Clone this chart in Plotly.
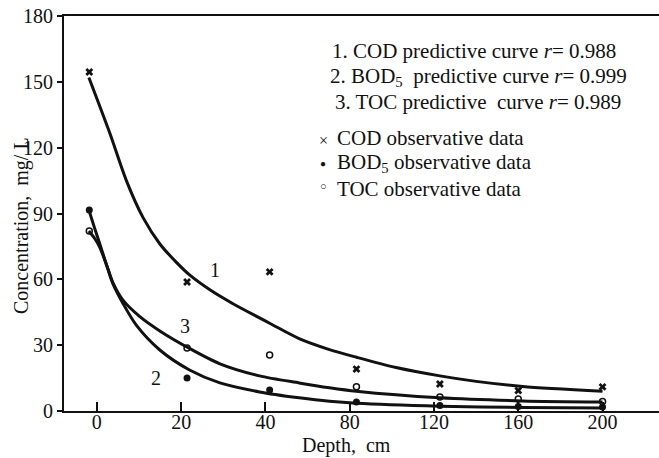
import plotly.graph_objects as go

# ---- data (x positions are category indices of the depth axis) ----
depth_labels = ["0", "20", "40", "80", "120", "160", "200"]
y_ticks = [0, 30, 60, 90, 120, 150, 180]

obs_x = [-0.09, 1.07, 2.05, 3.08, 4.07, 5.0, 6.0]
cod_obs = [154.5, 58.8, 63.4, 19.1, 12.3, 9.3, 11.0]
bod_obs = [91.6, 15.0, 9.6, 4.1, 2.5, 2.0, 1.8]
toc_obs = [82.0, 28.7, 25.5, 11.0, 6.4, 5.5, 4.3]

cod_curve_x = [-0.095, 0.15, 0.35, 0.55, 0.75, 0.95, 1.10, 1.35, 1.61, 2.05, 2.40, 2.76, 3.08, 3.55, 4.07, 4.50, 5.05, 6.0]
cod_curve_y = [152, 127, 105, 88, 76, 67.5, 62, 55, 49, 40, 33, 28, 24.5, 19.8, 16, 13.5, 11.2, 9.0]

bod_curve_x = [-0.095, -0.024, 0.036, 0.12, 0.19, 0.31, 0.47, 0.747, 1.10, 1.46, 1.93, 2.40, 2.76, 3.08, 4.07, 5.05, 6.0]
bod_curve_y = [91.6, 83, 76, 66, 58, 49, 39, 27.8, 18.7, 12.8, 8.7, 6.0, 4.4, 3.5, 2.2, 1.6, 1.4]

toc_curve_x = [-0.095, -0.024, 0.036, 0.12, 0.19, 0.31, 0.51, 0.747, 1.10, 1.46, 1.93, 2.40, 2.76, 3.08, 4.07, 5.05, 6.0]
toc_curve_y = [82, 78.5, 74.5, 66, 58.5, 50.5, 43, 36.5, 28.5, 21.5, 16, 12.8, 10.6, 9.0, 6.0, 4.6, 4.1]

FONT = "Liberation Serif, Times New Roman, serif"
BLACK = "#111111"

fig = go.Figure()
for cx, cy in [(cod_curve_x, cod_curve_y), (bod_curve_x, bod_curve_y), (toc_curve_x, toc_curve_y)]:
    fig.add_trace(go.Scatter(x=cx, y=cy, mode="lines",
                             line=dict(color=BLACK, width=3, shape="spline", smoothing=0.8),
                             showlegend=False, hoverinfo="skip"))

fig.add_trace(go.Scatter(x=obs_x, y=cod_obs, mode="markers",
                         marker=dict(symbol="x", size=7, color=BLACK), showlegend=False))
fig.add_trace(go.Scatter(x=obs_x, y=bod_obs, mode="markers",
                         marker=dict(symbol="circle", size=7, color=BLACK), showlegend=False))
fig.add_trace(go.Scatter(x=obs_x, y=toc_obs, mode="markers",
                         marker=dict(symbol="circle-open", size=6, color=BLACK, line=dict(width=1.5)),
                         showlegend=False))

ann = []
# curve numbers
for txt, ax, ay in [("1", 1.40, 64.3), ("3", 1.04, 38.7), ("2", 0.70, 15.0)]:
    ann.append(dict(x=ax, y=ay, xref="x", yref="y", text=txt, showarrow=False,
                    font=dict(size=20, family=FONT, color=BLACK)))

# legend-like text block
W, H, L, T, B = 659, 458, 64, 16, 47
pw, ph = W - L, H - T - B
def px(xp):
    return (xp - L) / pw
def py(yp):
    return (H - B - yp) / ph

legend_lines = [
    ("1. COD predictive curve <i>r</i>= 0.988", 330, 51),
    ("2. BOD<sub>5</sub>  predictive curve <i>r</i>= 0.999", 328, 77),
    ("3. TOC predictive  curve <i>r</i>= 0.989", 333, 102),
    ("COD observative data", 335, 138),
    ("BOD<sub>5</sub> observative data", 335, 163),
    ("TOC observative data", 335, 189),
]
for txt, xp, yp in legend_lines:
    ann.append(dict(x=px(xp), y=py(yp), xref="paper", yref="paper", text=txt,
                    xanchor="left", yanchor="middle", showarrow=False,
                    font=dict(size=21, family=FONT, color=BLACK)))
for sym, yp, sz in [("×", 140, 16), ("●", 163, 10), ("○", 186, 11)]:
    ann.append(dict(x=px(323), y=py(yp), xref="paper", yref="paper", text=sym,
                    xanchor="center", yanchor="middle", showarrow=False,
                    font=dict(size=sz, family=FONT, color=BLACK)))

# axis titles
ann.append(dict(x=px(346), y=py(445), xref="paper", yref="paper", text="Depth,  cm",
                showarrow=False, xanchor="center", yanchor="middle",
                font=dict(size=20, family=FONT, color=BLACK)))
ann.append(dict(x=px(22), y=py(226), xref="paper", yref="paper", text="Concentration,  mg/ L",
                showarrow=False, xanchor="center", yanchor="middle", textangle=-90,
                font=dict(size=20, family=FONT, color=BLACK)))

fig.update_layout(
    width=W, height=H,
    margin=dict(l=L, r=0, t=T, b=B),
    paper_bgcolor="white", plot_bgcolor="white",
    font=dict(family=FONT, size=20, color=BLACK),
    annotations=ann,
    xaxis=dict(range=[-0.39, 6.67], tickmode="array", tickvals=list(range(len(depth_labels))),
               ticktext=depth_labels, ticks="inside", ticklen=9, tickwidth=1.5, tickcolor=BLACK,
               ticklabelstandoff=-8,
               showline=True, linewidth=2, linecolor=BLACK, mirror=True,
               showgrid=False, zeroline=False, fixedrange=True),
    yaxis=dict(range=[0, 180], tickmode="array", tickvals=y_ticks,
               ticks="outside", ticklen=5, tickwidth=1.5, tickcolor=BLACK,
               showline=True, linewidth=2, linecolor=BLACK,
               showgrid=False, zeroline=False, fixedrange=True),
)

fig.write_html("out.html", config={"displayModeBar": False},
               post_script="document.body.style.margin='0';document.body.style.overflow='hidden';")
